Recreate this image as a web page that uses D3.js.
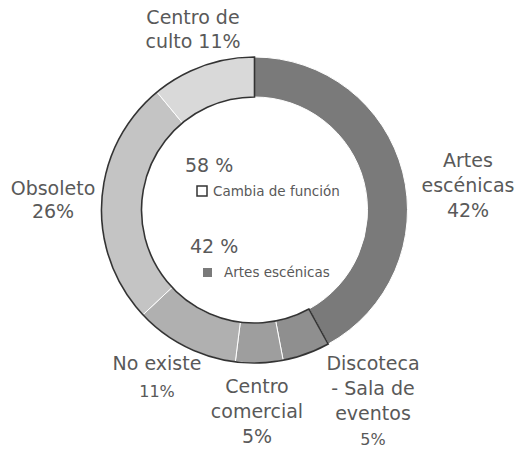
<!DOCTYPE html>
<html><head><meta charset="utf-8">
<script src="https://cdn.jsdelivr.net/npm/d3@7"></script>
<style>body{margin:0;background:#fff}svg{display:block}text{font-family:"DejaVu Sans",sans-serif;fill:#595959}</style>
</head><body>
<script>
const categories = ["Artes escénicas","Discoteca - Sala de eventos","Centro comercial","No existe","Obsoleto","Centro de culto"];
const values = [42,5,5,11,26,11];
const colors = ["#7a7a7a","#8f8f8f","#9e9e9e","#b0b0b0","#c4c4c4","#d9d9d9"];
const labelLines = [["Artes","escénicas","42%"],["Discoteca","- Sala de","eventos","5%"],["Centro","comercial","5%"],["No existe","11%"],["Obsoleto","26%"],["Centro de","culto 11%"]];
const groupNames = ["Cambia de función","Artes escénicas"];
const groupValues = [58,42];

const W=520,H=450,cx=254.5,cy=210,R=153,r=113;
const svg=d3.select("body").append("svg").attr("width",W).attr("height",H);
const g=svg.append("g").attr("transform",`translate(${cx},${cy})`);
const pie=d3.pie().sort(null).value(d=>d)(values);
const arc=d3.arc().innerRadius(r).outerRadius(R);
g.selectAll("path.s").data(pie).join("path").attr("class","s")
 .attr("d",arc).attr("fill",(d,i)=>colors[i]).attr("stroke","#fff").attr("stroke-width",1);
// outline around the "Cambia de función" group
const gStart=pie[1].startAngle;
g.append("path").attr("d",d3.arc().innerRadius(r).outerRadius(R)({startAngle:gStart,endAngle:2*Math.PI}))
 .attr("fill","none").attr("stroke","#333").attr("stroke-width",1.6);

// labels
const labelPos=[[468,167,25],[373,370,25],[257,393,25],[157,370,27],[53,195,23],[193,24,24]];
const pctSmall=[false,true,false,true,false,false];
labelPos.forEach((p,i)=>{
  const t=svg.append("text").attr("text-anchor","middle").attr("font-size",19);
  labelLines[i].forEach((ln,j)=>{
    const ts=t.append("tspan").attr("x",p[0]).attr("y",p[1]+j*p[2]).text(ln);
    if(pctSmall[i] && j===labelLines[i].length-1) ts.attr("font-size",16);
  });
});

// center legend
const lg=[{x:185,y:172,sq:[197,186],filled:false,tx:213,ty:196},{x:190,y:253,sq:[203,268],filled:true,tx:224,ty:277}];
lg.forEach((L,i)=>{
  svg.append("text").attr("x",L.x).attr("y",L.y).attr("font-size",19).text(groupValues[i]+" %");
  svg.append("rect").attr("x",L.sq[0]).attr("y",L.sq[1]).attr("width",L.filled?9:10).attr("height",L.filled?9:10)
    .attr("fill",L.filled?colors[0]:"#fff").attr("stroke",L.filled?"none":"#333").attr("stroke-width",1.5);
  svg.append("text").attr("x",L.tx).attr("y",L.ty).attr("font-size",13.5).text(groupNames[i]);
});
</script>
</body></html>
